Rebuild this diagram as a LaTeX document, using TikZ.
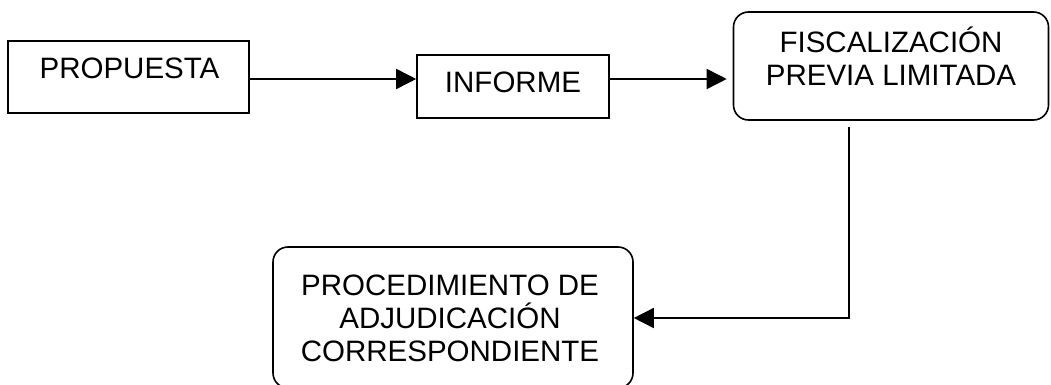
\documentclass[tikz,border=0pt]{standalone}
\usepackage{fontspec}
\setmainfont{Liberation Sans}
\usetikzlibrary{arrows.meta}
\begin{document}
\begin{tikzpicture}[x=1pt,y=-1pt,
  boxshape/.style={draw=black, line width=1.6pt, inner sep=0pt},
  roundbox/.style={boxshape, rounded corners=15pt},
  lbl/.style={font=\fontsize{29.5}{33}\selectfont, inner sep=0pt, align=center, text=black},
  conn/.style={draw=black, line width=1.6pt, -{Triangle[length=20pt,width=20pt]}}
]
\useasboundingbox (0,0) rectangle (1051,385);
\clip (0,0) rectangle (1051,385);
\node[boxshape, minimum width=241pt, minimum height=72pt] (prop) at (128.5,77) {};
\node[lbl, anchor=base] (proptext) at (129.5,79) {PROPUESTA};
\node[boxshape, minimum width=192pt, minimum height=63pt] (inf) at (513,86.5) {};
\node[lbl, anchor=base] (inftext) at (513,93) {INFORME};
\node[roundbox, minimum width=315pt, minimum height=108pt] (fisc) at (891,66) {};
\node[lbl, anchor=base] (fisctext) at (891,86) {FISCALIZACIÓN\\PREVIA LIMITADA};
\node[roundbox, minimum width=360pt, minimum height=141pt] (proc) at (453,317.5) {};
\node[lbl, anchor=base] (proctext) at (450,361) {PROCEDIMIENTO DE\\ADJUDICACIÓN\\CORRESPONDIENTE};
\draw[conn] (prop.east |- 0,79) -- (inf.west |- 0,79);
\draw[conn, shorten >=6pt] (inf.east |- 0,79) -- (fisc.west |- 0,79);
\coordinate (c1) at (849,127);
\coordinate (turn) at (849,318);
\draw[conn] (c1) -- (turn) -- (proc.east |- turn);
\end{tikzpicture}
\end{document}
